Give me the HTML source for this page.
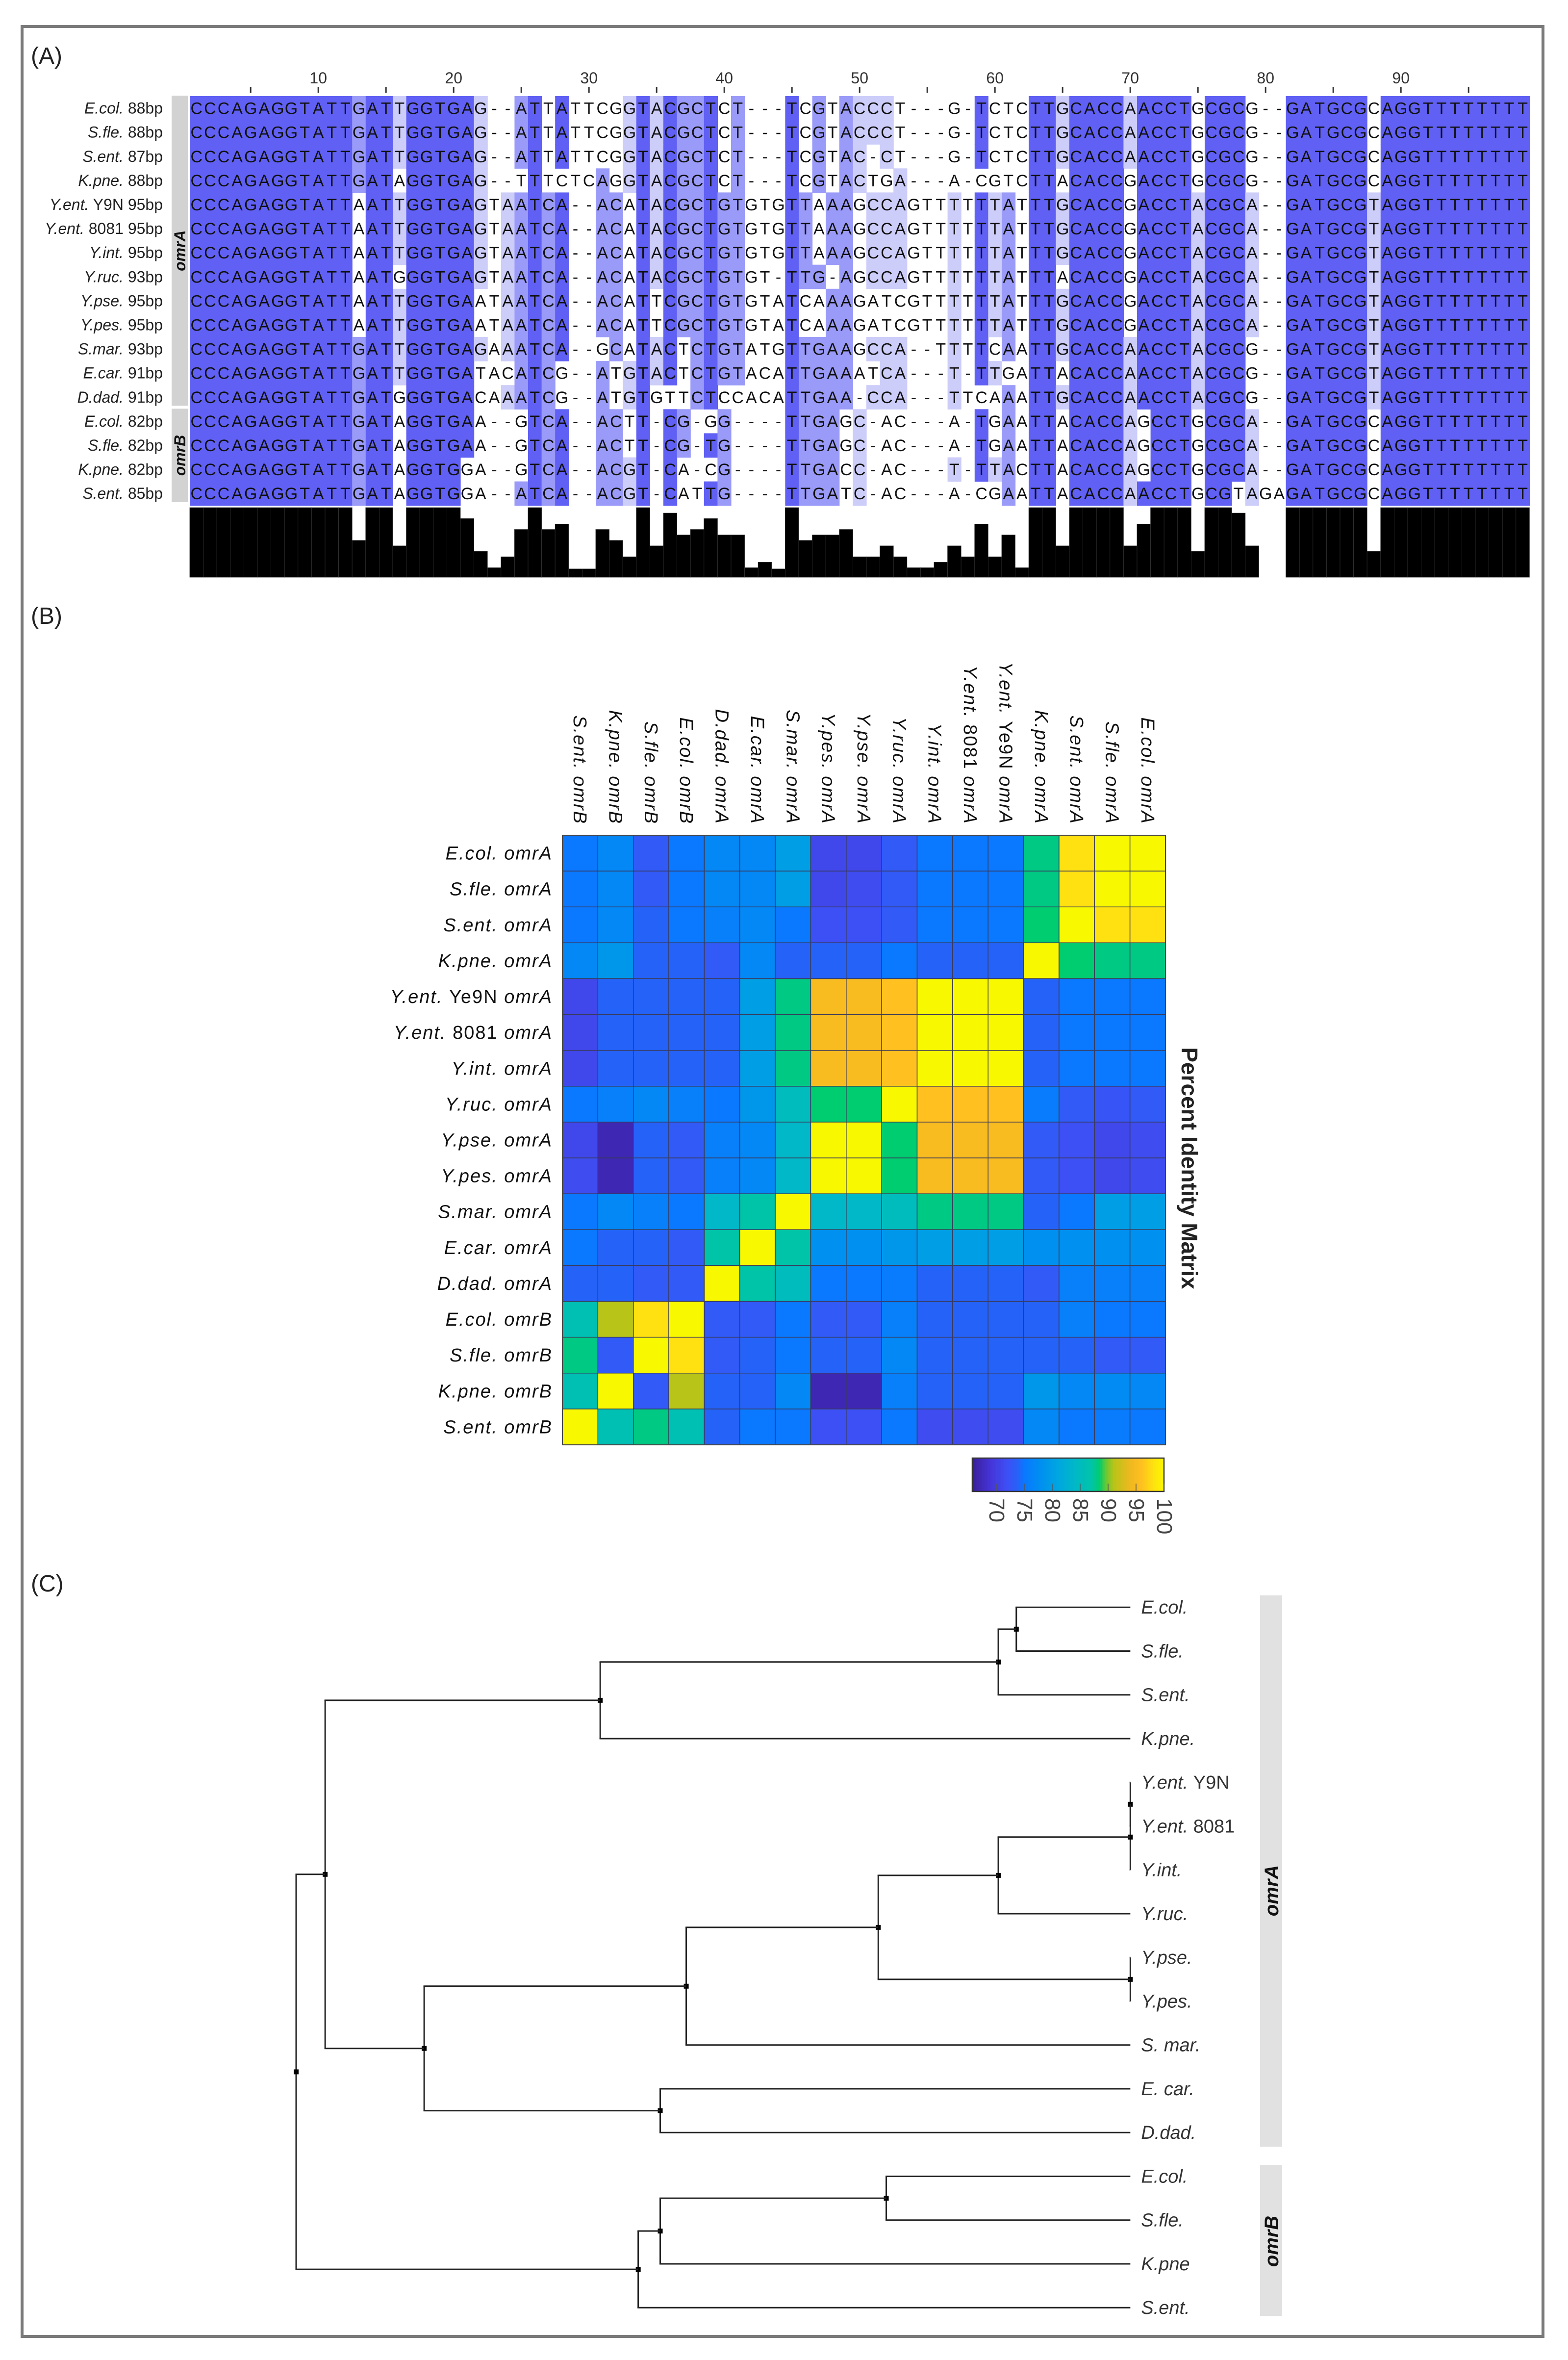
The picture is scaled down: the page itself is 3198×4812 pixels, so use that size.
<!DOCTYPE html>
<html><head><meta charset="utf-8"><style>
html,body{margin:0;padding:0;background:#fff}
svg{display:block}
text{font-family:"Liberation Sans",sans-serif}
</style></head><body>
<svg id="fig" width="3198" height="4812" viewBox="0 0 3198 4812" xmlns="http://www.w3.org/2000/svg">
<rect x="0" y="0" width="3198" height="4812" fill="#ffffff"/>
<rect x="45" y="54" width="3102" height="4710" fill="none" stroke="#7a7a7a" stroke-width="6"/>
<text x="63" y="130" font-size="48" fill="#222">(A)</text>
<text x="63" y="1272" font-size="48" fill="#222">(B)</text>
<text x="63" y="3245" font-size="48" fill="#222">(C)</text>
<g id="align"></g><g id="heat"></g><g id="tree"></g>
</svg>
<script>
// ---------- Panel A data ----------
const seqSpecies=["E.col.","S.fle.","S.ent.","K.pne.","Y.ent. Y9N","Y.ent. 8081","Y.int.","Y.ruc.","Y.pse.","Y.pes.","S.mar.","E.car.","D.dad.","E.col.","S.fle.","K.pne.","S.ent."];
const seqLengths=[88,88,87,88,95,95,95,93,95,95,93,91,91,82,82,82,85];
const seqs=[
"CCCAGAGGTATTGATTGGTGAG--ATTATTCGGTACGCTCT---TCGTACCCT---G-TCTCTTGCACCAACCTGCGCG--GATGCGCAGGTTTTTTTT",
"CCCAGAGGTATTGATTGGTGAG--ATTATTCGGTACGCTCT---TCGTACCCT---G-TCTCTTGCACCAACCTGCGCG--GATGCGCAGGTTTTTTTT",
"CCCAGAGGTATTGATTGGTGAG--ATTATTCGGTACGCTCT---TCGTAC-CT---G-TCTCTTGCACCAACCTGCGCG--GATGCGCAGGTTTTTTTT",
"CCCAGAGGTATTGATAGGTGAG--TTTCTCAGGTACGCTCT---TCGTACTGA---A-CGTCTTACACCGACCTGCGCG--GATGCGCAGGTTTTTTTT",
"CCCAGAGGTATTAATTGGTGAGTAATCA--ACATACGCTGTGTGTTAAAGCCAGTTTTTTATTTGCACCGACCTACGCA--GATGCGTAGGTTTTTTTT",
"CCCAGAGGTATTAATTGGTGAGTAATCA--ACATACGCTGTGTGTTAAAGCCAGTTTTTTATTTGCACCGACCTACGCA--GATGCGTAGGTTTTTTTT",
"CCCAGAGGTATTAATTGGTGAGTAATCA--ACATACGCTGTGTGTTAAAGCCAGTTTTTTATTTGCACCGACCTACGCA--GATGCGTAGGTTTTTTTT",
"CCCAGAGGTATTAATGGGTGAGTAATCA--ACATACGCTGTGT-TTG-AGCCAGTTTTTTATTTACACCGACCTACGCA--GATGCGTAGGTTTTTTTT",
"CCCAGAGGTATTAATTGGTGAATAATCA--ACATTCGCTGTGTATCAAAGATCGTTTTTTATTTGCACCGACCTACGCA--GATGCGTAGGTTTTTTTT",
"CCCAGAGGTATTAATTGGTGAATAATCA--ACATTCGCTGTGTATCAAAGATCGTTTTTTATTTGCACCGACCTACGCA--GATGCGTAGGTTTTTTTT",
"CCCAGAGGTATTGATTGGTGAGAAATCA--GCATACTCTGTATGTTGAAGCCA--TTTTCAATTGCACCAACCTACGCG--GATGCGTAGGTTTTTTTT",
"CCCAGAGGTATTGATTGGTGATACATCG--ATGTACTCTGTACATTGAAATCA---T-TTGATTACACCAACCTACGCG--GATGCGTAGGTTTTTTTT",
"CCCAGAGGTATTGATGGGTGACAAATCG--ATGTGTTCTCCACATTGAA-CCA---TTCAAATTGCACCAACCTACGCG--GATGCGTAGGTTTTTTTT",
"CCCAGAGGTATTGATAGGTGAA--GTCA--ACTT-CG-GG----TTGAGC-AC---A-TGAATTACACCAGCCTGCGCA--GATGCGCAGGTTTTTTTT",
"CCCAGAGGTATTGATAGGTGAA--GTCA--ACTT-CG-TG----TTGAGC-AC---A-TGAATTACACCAGCCTGCGCA--GATGCGCAGGTTTTTTTT",
"CCCAGAGGTATTGATAGGTGGA--GTCA--ACGT-CA-CG----TTGACC-AC---T-TTACTTACACCAGCCTGCGCA--GATGCGCAGGTTTTTTTT",
"CCCAGAGGTATTGATAGGTGGA--ATCA--ACGT-CATTG----TTGATC-AC---A-CGAATTACACCAACCTGCGTAGAGATGCGCAGGTTTTTTTT"
];
const rulerTicks=[10,20,30,40,50,60,70,80,90];

// ---------- Panel B data ----------
const hmRowLabels=["E.col.|omrA","S.fle.|omrA","S.ent.|omrA","K.pne.|omrA","Y.ent. Ye9N|omrA","Y.ent. 8081|omrA","Y.int.|omrA","Y.ruc.|omrA","Y.pse.|omrA","Y.pes.|omrA","S.mar.|omrA","E.car.|omrA","D.dad.|omrA","E.col.|omrB","S.fle.|omrB","K.pne.|omrB","S.ent.|omrB"];
const hmColLabels=["S.ent.|omrB","K.pne.|omrB","S.fle.|omrB","E.col.|omrB","D.dad.|omrA","E.car.|omrA","S.mar.|omrA","Y.pes.|omrA","Y.pse.|omrA","Y.ruc.|omrA","Y.int.|omrA","Y.ent. 8081|omrA","Y.ent. Ye9N|omrA","K.pne.|omrA","S.ent.|omrA","S.fle.|omrA","E.col.|omrA"];
const hmValues=[
[75,77,73,75,77,77,80,71,71,73,75,75,75,88,98,100,100],
[75,77,73,75,77,77,80,71,71.5,73,75,75,75,88,98,100,100],
[75,77,74,75,76,77,75,72,72,73,75,75,75,88.5,100,98,98],
[77,79,74,74,73,77,74,74,74,75,74,74,74,100,88.5,88,88],
[71,74,74,74,74,80,88,95,95,96,100,100,100,74,75,75,75],
[71,74,74,74,74,80,88,95,95,96,100,100,100,74,75,75,75],
[71,74,74,74,74,80,88,95,95,96,100,100,100,74,75,75,75],
[75,76,77,76,75,79,85,88.5,88.5,100,96,96,96,75.5,73,72.5,73],
[71,67,74,73,76,77,84,100,100,88.5,95,95,95,73,72,71,71.5],
[71.5,67,74,73,76,77,84,100,100,88.5,95,95,95,73,72,71,71.5],
[75,77,76,75,84,87,100,84,84,85,88,88,88,74,75,80,80],
[75,74,74,73,87,100,87,78,78,79,80,80,80,78,78,78,78],
[74,74,73,73,100,87,85,75,75,75.5,74,74,74,73,76,76,76],
[86,91,98,100,73,73,75,73,73,76,74,74,74,74,76,75,75],
[88,73,100,98,73,74,75,74,74,77,74,74,74,74,74,73,73],
[86,100,73,91,74,74,77,67,67,76,74,74,74,79,77,77.5,77],
[100,86,88,86,74,75,75,72,72,75,71.5,71.5,71.5,77,75,75.5,75]
];
const cbTicks=[70,75,80,85,90,95,100];

// ---------- Panel C data ----------
const leafNames=["E.col.","S.fle.","S.ent.","K.pne.","Y.ent. Y9N","Y.ent. 8081","Y.int.","Y.ruc.","Y.pse.","Y.pes.","S. mar.","E. car.","D.dad.","E.col.","S.fle.","K.pne","S.ent."];
const leafHeight=834;
const nodeChildren=[[0,1],[17,2],[18,3],[4,5],[20,6],[21,7],[8,9],[22,23],[24,10],[11,12],[25,26],[19,27],[13,14],[29,15],[30,16],[28,31]];
const nodeHeight=[720,702,304,834,834,702,834,582,390,364,128,29,590,364,342,0];

const NS="http://www.w3.org/2000/svg";
function el(tag,parent){const e=document.createElementNS(NS,tag);parent.appendChild(e);return e;}

// ===== Panel A =====
(function(){
  const g=document.getElementById('align');
  const AX0=387, CW=27.6, AY0=196, RH=49.1, nCol=seqs[0].length;
  const colX=c=>AX0+c*CW;
  const rowY=r=>AY0+r*RH;
  for(let c=5;c<=95;c+=5){
    const t=el('line',g);
    
    
    t.setAttribute('x1',colX(c-0.5));t.setAttribute('x2',colX(c-0.5));t.setAttribute('y1',177);t.setAttribute('y2',189);t.setAttribute('stroke','#333');t.setAttribute('stroke-width',3);
  }
  rulerTicks.forEach(v=>{
    const t=el('text',g);
    
    
    t.setAttribute('x',colX(v-0.5));t.setAttribute('y',170);t.setAttribute('text-anchor','middle');t.setAttribute('font-size',32);t.setAttribute('fill','#333');t.textContent=v;
  });
  const cons=[],pid=[],resFrac=[];
  for(let c=0;c<nCol;c++){
    const cnt={};seqs.forEach(s=>{cnt[s[c]]=(cnt[s[c]]||0)+1;});
    let best='-',bn=0;for(const k in cnt){if(cnt[k]>bn||(cnt[k]===bn&&best==='-')){best=k;bn=cnt[k];}}
    cons.push(best);pid.push(bn/seqs.length);
    let rb=0;for(const k in cnt){if(k!=='-'&&cnt[k]>rb)rb=cnt[k];}
    resFrac.push(rb/seqs.length);
  }
  seqs.forEach((s,r)=>{
    for(let c=0;c<nCol;c++){
      const ch=s[c];
      if(ch!=='-'&&ch===cons[c]){
        const p=pid[c];let col=null;
        if(p>0.8)col='#6060f4';else if(p>0.6)col='#9a9af8';else if(p>0.4)col='#cdcdfa';
        if(col){
          const rc=el('rect',g);
          
          
          rc.setAttribute('x',colX(c));rc.setAttribute('y',rowY(r));rc.setAttribute('width',CW+0.6);rc.setAttribute('height',RH+0.6);rc.setAttribute('fill',col);
        }
      }
    }
    const tx=el('text',g);
    
    
    tx.setAttribute('font-family','DejaVu Sans Mono, Liberation Mono, monospace');
    tx.setAttribute('font-size',34);tx.setAttribute('fill','#111');
    tx.setAttribute('y',rowY(r)+RH/2+12);tx.setAttribute('text-anchor','middle');
    for(let c=0;c<nCol;c++){
      const ts=el('tspan',tx);
      ts.setAttribute('x',(colX(c)+CW/2).toFixed(1));ts.setAttribute('text-anchor','middle');ts.textContent=s[c];
    }
    const lb=el('text',g);
    
    
    lb.setAttribute('x',332);lb.setAttribute('y',rowY(r)+RH/2+11);lb.setAttribute('text-anchor','end');lb.setAttribute('font-size',32);lb.setAttribute('fill','#222');
    const parts=seqSpecies[r].split(' ');
    const a=el('tspan',lb);a.setAttribute('font-style','italic');a.textContent=parts[0];
    const b=el('tspan',lb);b.textContent=(parts[1]?' '+parts[1]:'')+' '+seqLengths[r]+'bp';
  });
  [['omrA',0,12],['omrB',13,16]].forEach(([nm,a,b])=>{
    const y0=rowY(a)-4,y1=rowY(b+1)-4;
    const rc=el('rect',g);
    
    
    rc.setAttribute('x',350);rc.setAttribute('y',y0+3);rc.setAttribute('width',33);rc.setAttribute('height',y1-y0-6);rc.setAttribute('fill','#d2d2d2');
    const t=el('text',g);
    
    
    const cy=(y0+y1)/2;
    t.setAttribute('transform','translate(378,'+cy+') rotate(-90)');t.setAttribute('text-anchor','middle');t.setAttribute('font-size',32);t.setAttribute('font-weight','bold');t.setAttribute('font-style','italic');t.setAttribute('fill','#111');t.textContent=nm;
  });
  const HB=1177,HH=142;
  for(let c=0;c<nCol;c++){
    const f=resFrac[c];
    const h=f<0.15?0:Math.max(0.12,(f-0.25)/0.75)*HH;
    const rc=el('rect',g);
    
    
    rc.setAttribute('x',colX(c));rc.setAttribute('y',HB-h);rc.setAttribute('width',CW);rc.setAttribute('height',h);rc.setAttribute('fill','#000');rc.setAttribute('stroke','#333');rc.setAttribute('stroke-width',0.8);
  }
})();

// ===== Panel B =====
function cmap(v){
  const st=[[66,[58,32,160]],[69,[69,53,216]],[72,[61,80,245]],[74,[37,99,248]],[75,[10,120,255]],[78,[0,144,240]],[81,[0,166,224]],[84,[0,184,200]],[87,[0,196,168]],[88.5,[0,204,112]],[89.5,[96,200,56]],[91,[184,196,24]],[94,[240,184,32]],[96,[255,192,32]],[98,[255,224,16]],[100,[248,248,0]]];
  if(v<=st[0][0])return 'rgb('+st[0][1].join(',')+')';
  for(let i=1;i<st.length;i++){if(v<=st[i][0]){const t=(v-st[i-1][0])/(st[i][0]-st[i-1][0]);const a=st[i-1][1],b=st[i][1];return 'rgb('+a.map((x,k)=>Math.round(x+(b[k]-x)*t)).join(',')+')';}}
  return 'rgb(248,248,0)';
}
(function(){
  const g=document.getElementById('heat');
  const X0=1147,X1=2377,Y0=1703,Y1=2946,n=hmRowLabels.length;
  const cw=(X1-X0)/hmColLabels.length, rh=(Y1-Y0)/n;
  const cx=c=>X0+c*cw, ry=r=>Y0+r*rh;
  hmValues.forEach((row,r)=>row.forEach((v,c)=>{
    const rc=el('rect',g);
    
    
    rc.setAttribute('x',cx(c));rc.setAttribute('y',ry(r));rc.setAttribute('width',cw);rc.setAttribute('height',rh);rc.setAttribute('fill',cmap(v));rc.setAttribute('stroke','#3a3a5a');rc.setAttribute('stroke-width',1.5);
  }));
  const fr=el('rect',g);
  
  
  fr.setAttribute('x',X0);fr.setAttribute('y',Y0);fr.setAttribute('width',X1-X0);fr.setAttribute('height',Y1-Y0);fr.setAttribute('fill','none');fr.setAttribute('stroke','#444');fr.setAttribute('stroke-width',2);
  function lab(t,s){const p=s.split('|');const a=el('tspan',t);a.textContent=p[0];const sp=p[0].split(' ');if(sp.length>1){a.textContent=sp[0]+' ';const m=el('tspan',t);m.setAttribute('font-style','normal');m.textContent=sp[1];}const b=el('tspan',t);b.textContent=' '+p[1];}
  hmRowLabels.forEach((s,r)=>{
    const t=el('text',g);
    
    
    t.setAttribute('x',X0-20);t.setAttribute('y',ry(r)+rh/2+13);t.setAttribute('text-anchor','end');t.setAttribute('font-size',38);t.setAttribute('font-style','italic');t.setAttribute('letter-spacing','2');t.setAttribute('fill','#111');
    lab(t,s);
  });
  hmColLabels.forEach((s,c)=>{
    const t=el('text',g);
    
    
    t.setAttribute('transform','translate('+(cx(c)+cw/2-13)+','+(Y0-22)+') rotate(90)');t.setAttribute('text-anchor','end');t.setAttribute('font-size',38);t.setAttribute('font-style','italic');t.setAttribute('letter-spacing','2');t.setAttribute('fill','#111');
    lab(t,s);
  });
  const tt=el('text',g);
  
  
  tt.setAttribute('transform','translate(2410,2382) rotate(90)');tt.setAttribute('text-anchor','middle');tt.setAttribute('font-size',46);tt.setAttribute('font-weight','bold');tt.setAttribute('fill','#222');tt.textContent='Percent Identity Matrix';
  const cbV0=65.7,cbV1=100,cbX0=1983,cbX1=2374,cbY0=2973,cbY1=3041;
  const cbx=v=>cbX0+(v-cbV0)/(cbV1-cbV0)*(cbX1-cbX0);
  for(let i=0;i<120;i++){
    const v=cbV0+(cbV1-cbV0)*i/120;
    const rc=el('rect',g);
    
    
    rc.setAttribute('x',cbx(v));rc.setAttribute('y',cbY0);rc.setAttribute('width',(cbX1-cbX0)/120+0.8);rc.setAttribute('height',cbY1-cbY0);rc.setAttribute('fill',cmap(v+(cbV1-cbV0)/240));
  }
  const cf=el('rect',g);
  
  
  cf.setAttribute('x',cbX0);cf.setAttribute('y',cbY0);cf.setAttribute('width',cbX1-cbX0);cf.setAttribute('height',cbY1-cbY0);cf.setAttribute('fill','none');cf.setAttribute('stroke','#333');cf.setAttribute('stroke-width',2.5);
  cbTicks.forEach(v=>{
    const tk=el('line',g);
    
    
    tk.setAttribute('x1',cbx(v));tk.setAttribute('x2',cbx(v));tk.setAttribute('y1',cbY1-16);tk.setAttribute('y2',cbY1);tk.setAttribute('stroke','#555');tk.setAttribute('stroke-width',1.5);
    const t=el('text',g);
    
    
    t.setAttribute('transform','translate('+(cbx(v)-14)+','+(cbY1+14)+') rotate(90)');t.setAttribute('font-size',44);t.setAttribute('fill','#444');t.textContent=v;
  });
})();

// ===== Panel C =====
(function(){
  const g=document.getElementById('tree');
  const tx=h=>604+h*2.04;
  const leafY=i=>3150+(120+i*84.2)*1.06;
  const nL=leafNames.length;
  const X={},Y={};
  for(let i=0;i<nL;i++){X[i]=tx(leafHeight);Y[i]=leafY(i);}
  nodeChildren.forEach((ch,k)=>{const id=nL+k;X[id]=tx(nodeHeight[k]);Y[id]=(Y[ch[0]]+Y[ch[1]])/2;});
  nodeChildren.forEach((ch,k)=>{
    const id=nL+k;
    const v=el('line',g);
    
    
    v.setAttribute('x1',X[id]);v.setAttribute('x2',X[id]);v.setAttribute('y1',Y[ch[0]]);v.setAttribute('y2',Y[ch[1]]);v.setAttribute('stroke','#222');v.setAttribute('stroke-width',3);
    ch.forEach(c=>{
      const h=el('line',g);
      
      
      h.setAttribute('x1',X[id]-1.5);h.setAttribute('x2',X[c]);h.setAttribute('y1',Y[c]);h.setAttribute('y2',Y[c]);h.setAttribute('stroke','#222');h.setAttribute('stroke-width',3);
    });
    const d=el('rect',g);
    
    
    d.setAttribute('x',X[id]-5);d.setAttribute('y',Y[id]-5);d.setAttribute('width',10);d.setAttribute('height',10);d.setAttribute('fill','#000');
  });
  leafNames.forEach((nm,i)=>{
    const t=el('text',g);
    
    
    t.setAttribute('x',X[i]+22);t.setAttribute('y',Y[i]+13);t.setAttribute('font-size',38);t.setAttribute('fill','#333');
    const sp=nm.split(' ');
    const a=el('tspan',t);a.setAttribute('font-style','italic');
    if(sp.length>1&&/^\d|^Y9N/.test(sp[1])){a.textContent=sp[0]+' ';const b=el('tspan',t);b.textContent=sp[1];}
    else a.textContent=nm;
  });
  [['omrA',3253,4377],['omrB',4414,4722]].forEach(([nm,y0,y1])=>{
    const rc=el('rect',g);
    
    
    rc.setAttribute('x',2570);rc.setAttribute('y',y0);rc.setAttribute('width',45);rc.setAttribute('height',y1-y0);rc.setAttribute('fill','#e1e1e1');
    const t=el('text',g);
    
    
    t.setAttribute('transform','translate(2607,'+((nm==='omrA')?3855:4570)+') rotate(-90)');t.setAttribute('text-anchor','middle');t.setAttribute('font-size',40);t.setAttribute('font-weight','bold');t.setAttribute('font-style','italic');t.setAttribute('fill','#111');t.textContent=nm;
  });
})();
</script>
</body></html>
